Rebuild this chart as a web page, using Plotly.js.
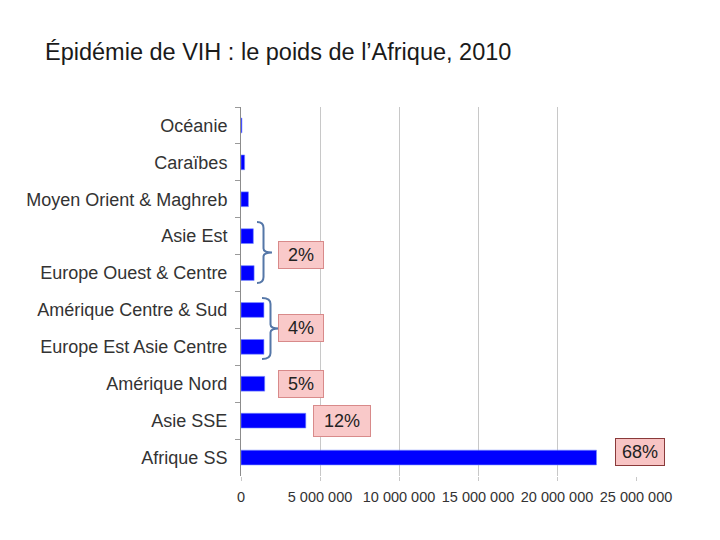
<!DOCTYPE html>
<html><head><meta charset="utf-8">
<script src="https://cdn.plot.ly/plotly-3.0.1.min.js"></script>
<style>body{margin:0;background:#fff}#c{width:720px;height:540px}</style>
</head><body><div id="c"></div>
<script>
const regions = ["Océanie","Caraïbes","Moyen Orient & Maghreb","Asie Est","Europe Ouest & Centre","Amérique Centre & Sud","Europe Est Asie Centre","Amérique Nord","Asie SSE","Afrique SS"];
const people = [60000, 230000, 470000, 780000, 830000, 1450000, 1450000, 1500000, 4100000, 22500000];
const tickVals = [0, 5000000, 10000000, 15000000, 20000000, 25000000];
const tickText = ["0","5 000 000","10 000 000","15 000 000","20 000 000","25 000 000"];
const shareLabels = ["2%","4%","5%","12%","68%"];
const shareX = [3800000, 3800000, 3800000, 6400000, 25000000];
const shareY = [3.5, 5.5, 7, 8, 8.85];

// plot-area pixel geometry helpers (for brace decorations)
const L=241, R=636, T=107, B=476;
const px = v => (v-L)/(R-L);
const py = v => (B-v)/(B-T);
function brace(xEnd, xV, xTip, yTop, yBot){
  const ym=(yTop+yBot)/2;
  const p = (x,y)=> px(x).toFixed(4)+','+py(y).toFixed(4);
  return 'M'+p(xEnd,yTop)+' Q'+p(xV,yTop)+' '+p(xV,yTop+6)+
         ' L'+p(xV,ym-4)+' Q'+p(xV,ym)+' '+p(xTip,ym)+
         ' Q'+p(xV,ym)+' '+p(xV,ym+4)+
         ' L'+p(xV,yBot-6)+' Q'+p(xV,yBot)+' '+p(xEnd,yBot);
}

const trace = {
  type:'bar', orientation:'h', y:regions, x:people,
  marker:{color:'#0000ff', line:{color:'rgba(120,140,255,0.6)', width:1}},
  width:0.4, hoverinfo:'skip'
};

const annotations = shareLabels.map((t,i)=>({
  text:t, x:shareX[i], y:shareY[i], xref:'x', yref:'y', showarrow:false,
  font:{family:'Liberation Sans, Arial, sans-serif', size:18, color:'#222'},
  bgcolor: i===4 ? '#f8c4c4' : '#f9c9c9',
  bordercolor: i===4 ? '#8a3a3a' : '#d88a8a', borderwidth:1,
  borderpad: i===3 ? 5 : 3, xanchor:'center', yanchor:'middle'
}));
annotations[0].width=38; annotations[1].width=38; annotations[2].width=38; annotations[3].width=46; annotations[4].width=42;
annotations[4].xshift=4;

const layout = {
  width:720, height:540, paper_bgcolor:'#fff', plot_bgcolor:'#fff',
  margin:{l:L, r:720-R, t:T, b:540-B},
  showlegend:false,
  title:{text:'Épidémie de VIH : le poids de l’Afrique, 2010', xref:'container', yref:'container',
    x:45/720, xanchor:'left', y:1-52/540, yanchor:'middle',
    font:{family:'Liberation Sans, Arial, sans-serif', size:23.5, color:'#1a1a1a'}},
  xaxis:{range:[0,25000000], tickvals:tickVals, ticktext:tickText, showgrid:true, gridcolor:'#c8c8c8', gridwidth:1,
    zeroline:false, showline:false, ticks:'outside', ticklen:4, tickcolor:'#c8c8c8', ticklabelstandoff:4, fixedrange:true,
    tickfont:{family:'Liberation Sans, Arial, sans-serif', size:14.5, color:'#333'}},
  yaxis:{type:'category', categoryorder:'array', categoryarray:regions, autorange:'reversed',
    showline:true, linecolor:'#8c8c8c', linewidth:1, ticks:'outside', tickson:'boundaries', ticklen:5, tickcolor:'#9a9a9a',
    showgrid:false, ticklabelstandoff:9,
    tickfont:{family:'Liberation Sans, Arial, sans-serif', size:18, color:'#333'}},
  annotations:annotations,
  shapes:[
    {type:'path', xref:'paper', yref:'paper', path:brace(257,263.5,272,222,283), line:{color:'#5577a8', width:2}},
    {type:'path', xref:'paper', yref:'paper', path:brace(262,270.5,279,298,359), line:{color:'#5577a8', width:2}}
  ]
};
Plotly.newPlot('c',[trace],layout,{displayModeBar:false, staticPlot:true});
</script></body></html>
